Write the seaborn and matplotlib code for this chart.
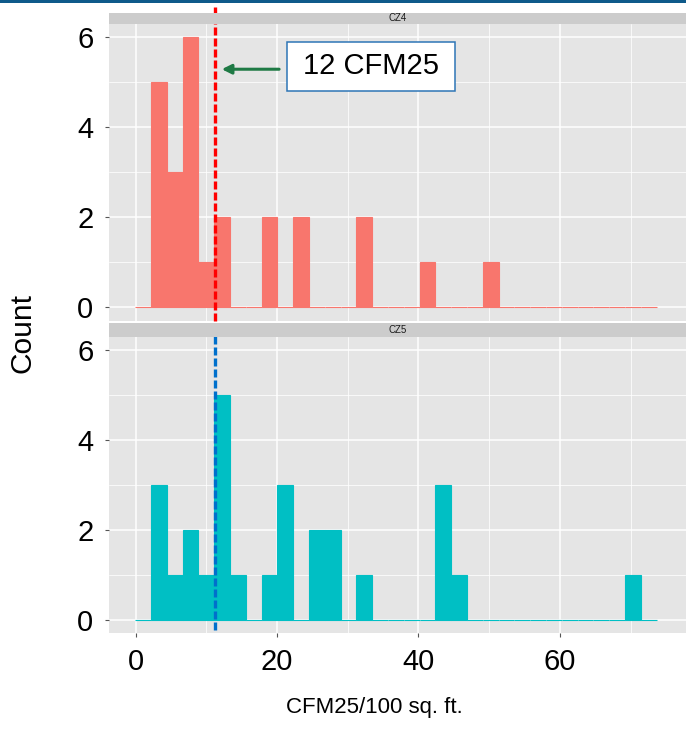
import numpy as np
import pandas as pd
import matplotlib
matplotlib.use("Agg")
import matplotlib.pyplot as plt
from matplotlib.patches import Rectangle
from matplotlib.ticker import MultipleLocator
import seaborn as sns

# ---------------- data ----------------
zones = ["CZ4", "CZ5"]
# bin centres (CFM25/100 sq. ft.) and counts per bin
cz4_values = [3.28, 5.52, 7.75, 9.99, 12.22, 18.93, 23.40, 32.34, 41.28, 50.22]
cz4_counts = [5, 3, 6, 1, 2, 2, 2, 2, 1, 1]
cz5_values = [3.28, 5.52, 7.75, 9.99, 12.22, 14.46, 18.93, 21.16, 25.63, 27.87,
              32.34, 43.51, 45.75, 70.33]
cz5_counts = [3, 1, 2, 1, 5, 1, 1, 3, 2, 2, 1, 3, 1, 1]
bin_start = -0.07
bin_width = 2.235
n_bins = 33
target_value = 11.15
annotation_text = "12 CFM25"
x_ticks = [0, 20, 40, 60]
y_ticks = [0, 2, 4, 6]
x_label = "CFM25/100 sq. ft."
y_label = "Count"

df = pd.DataFrame({
    "zone": ["CZ4"] * len(cz4_values) + ["CZ5"] * len(cz5_values),
    "value": cz4_values + cz5_values,
    "count": cz4_counts + cz5_counts,
})
bin_range = (bin_start, bin_start + bin_width * n_bins)

# ---------------- style ----------------
sns.set_theme(style="darkgrid")
plt.rcParams["font.family"] = ["Liberation Sans", "DejaVu Sans"]

W, H = 686, 729
fig = plt.figure(figsize=(W / 100, H / 100), dpi=100)
fig.patch.set_facecolor("white")

def fx(px):
    return px / W

def fy(py):
    return 1 - py / H

left_px, right_px = 108.7, 686
panels = {"CZ4": (24.0, 320.7, 12.7), "CZ5": (337.0, 632.5, 323.0)}
colors = {"CZ4": "#F8766D", "CZ5": "#00BFC4"}
ylims = {"CZ4": (-0.31, 6.28), "CZ5": (-0.27, 6.30)}
xlim = (-3.82, 77.84)

axes = {}
for z in zones:
    top, bot, strip_top = panels[z]
    ax = fig.add_axes([fx(left_px), fy(bot), fx(right_px - left_px), (bot - top) / H])
    axes[z] = ax
    ax.set_facecolor("#E5E5E5")
    ax.set_axisbelow(True)
    sns.histplot(data=df[df.zone == z], x="value", weights="count",
                 binwidth=bin_width, binrange=bin_range,
                 ax=ax, color=colors[z], alpha=1, edgecolor=colors[z],
                 linewidth=0.8)
    ax.set_xlim(*xlim)
    ax.set_ylim(*ylims[z])
    ax.xaxis.set_major_locator(MultipleLocator(20))
    ax.xaxis.set_minor_locator(MultipleLocator(10))
    ax.yaxis.set_major_locator(MultipleLocator(2))
    ax.yaxis.set_minor_locator(MultipleLocator(1))
    ax.set_yticks(y_ticks)
    ax.grid(which="major", color="white", linewidth=1.1)
    ax.grid(which="minor", color="white", linewidth=0.55)
    for s in ax.spines.values():
        s.set_visible(False)
    ax.set_xlabel("")
    ax.set_ylabel("")
    ax.tick_params(axis="y", which="major", left=True, length=3, width=0.8,
                   color="#555555", labelsize=21, pad=8.0, labelcolor="black")
    ax.tick_params(axis="y", which="minor", left=False)
    ax.tick_params(axis="x", which="minor", bottom=False)
    if z == "CZ5":
        ax.set_xticks(x_ticks)
        ax.tick_params(axis="x", which="major", bottom=True, length=3, width=0.8,
                       color="#555555", labelsize=21, pad=7.8, labelcolor="black")
    else:
        ax.tick_params(axis="x", which="major", bottom=False, labelbottom=False)

    # facet strip
    sax = fig.add_axes([fx(left_px), fy(top), fx(right_px - left_px), (top - strip_top) / H])
    sax.set_facecolor("#CCCCCC")
    sax.set_xticks([])
    sax.set_yticks([])
    for s in sax.spines.values():
        s.set_visible(False)
    sax.text(0.5, 0.5, z, transform=sax.transAxes, ha="center", va="center",
             fontsize=7, color="#1A1A1A")

# dashed reference lines
ax4, ax5 = axes["CZ4"], axes["CZ5"]
ax4.axvline(target_value, ymin=0.0, ymax=1.056, color="#FF0000", linewidth=2.4,
            dashes=(2.4, 0.9), clip_on=False, zorder=5)
ax5.axvline(target_value, ymin=0.008, ymax=1.047, color="#0070CC", linewidth=2.4,
            dashes=(2.4, 0.9), clip_on=False, zorder=5)

# annotation box and arrow (pixel positions converted to data)
def px2x(px):
    return (px - 135.7) / 7.065

def py2y4(py):
    return (306.7 - py) / 45.0

box = Rectangle((px2x(287.3), py2y4(90.7)), px2x(455) - px2x(287.3),
                py2y4(41.7) - py2y4(90.7), facecolor="white", edgecolor="#2E75B6",
                linewidth=1.1, zorder=6)
ax4.add_patch(box)
ax4.text((px2x(287.3) + px2x(455)) / 2, (py2y4(41.7) + py2y4(90.7)) / 2,
         annotation_text, ha="center", va="center", fontsize=21, color="black",
         zorder=7)
ax4.annotate("", xy=(px2x(221.7), py2y4(69.3)), xytext=(px2x(279), py2y4(69.3)),
             arrowprops=dict(arrowstyle="-|>", color="#1F7A45", lw=2.2,
                             mutation_scale=14, shrinkA=0, shrinkB=0), zorder=7)

# axis titles
fig.text(fx(22), fy(333), y_label, rotation=90, ha="center", va="center",
         fontsize=21.5, color="black")
fig.text(fx(374), fy(707), x_label, ha="center", va="center", fontsize=16,
         color="black")

# top border band
fig.add_artist(Rectangle((0, fy(2.5)), 1, 2.5 / H, transform=fig.transFigure,
                         facecolor="#0E5A8A", edgecolor="none"))

fig.savefig("out.png", dpi=100)
